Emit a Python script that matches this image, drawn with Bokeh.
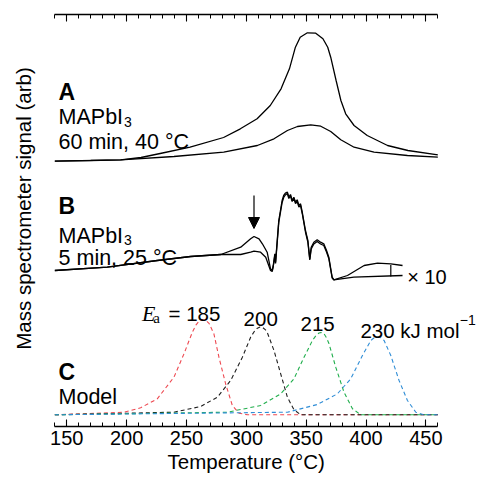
from bokeh.plotting import figure
from bokeh.models import (Label, LinearAxis, SingleIntervalTicker, Arrow, NormalHead, Title)
from bokeh.embed import file_html
from bokeh.resources import INLINE
import math

# ---------------- data ----------------
# Panel A: MAPbI3, 60 min, 40 C  (temperature in C, signal in arb)
a_hi_T = [140, 170, 195, 212, 228, 253, 281, 295, 309, 320, 329, 336, 341, 345, 351,
          358, 364, 368, 370.5, 375, 379, 383, 390, 401, 418, 435, 460]
a_hi_s = [0, 0.7, 1.4, 3.7, 7.7, 14.0, 23.7, 32.4, 42.4, 55.7, 72.4, 92.4, 114.0, 124.0,
          128.4, 128.0, 122.4, 114.0, 104.0, 80.7, 60.7, 47.4, 35.7, 25.7, 15.7, 10.7, 6.4]
a_lo_T = [140, 195, 239.5, 281.1, 309.2, 323.1, 334.3, 342.7, 353.8, 362.2, 370.5, 378.9,
          390.0, 406.7, 434.6, 460]
a_lo_s = [0, 1.4, 4.7, 9.0, 15.7, 22.4, 30.7, 34.7, 36.4, 35.0, 29.7, 21.4, 14.0, 9.0, 5.7, 4.0]

# Panel B: MAPbI3, 5 min, 25 C (x10)
b_hi_T = [140, 183.8, 225.6, 253.5, 278.7, 295.3, 303.6, 306.4, 310.6, 313.4, 317.4, 320.2,
          321.6, 322.5, 323.8, 324.4, 325.8, 327.1, 328.5, 329.9, 331.2, 332.6, 334.3, 335.5,
          336.9, 338.3, 339.7, 341.1, 342.5, 343.9, 345.3, 346.7, 349.4, 351.4, 353.0, 354.2,
          356.4, 359.2, 362.0, 364.7, 367.0, 368.9, 371.7, 373.1, 384.5, 398.4, 409.6, 420.7,
          430.5]
b_hi_s = [0, 3.3, 10, 14, 16, 23.3, 31.7, 34, 31.7, 26.7, 18.3, 1.7,
          0, 5, 16.7, 8.3, 30, 50, 60, 70, 75, 77.3, 78.3, 73.3,
          76, 70, 73.3, 68.3, 70.7, 65, 66.7, 58.3, 40, 30, 11.7, 23.3,
          28.3, 30.7, 28.3, 26.7, 20, 13.3, -6.7, -9.3, -5, 5, 7.3, 6.7,
          5]
b_lo_T = [140, 183.8, 225.6, 253.5, 278.7, 295.3, 303.6, 306.4, 311.9, 316.2, 320.2, 321.6,
          322.5, 323.8, 324.4, 325.8, 327.1, 328.5, 329.9, 331.2, 332.6, 334.3, 335.5, 336.9,
          338.3, 339.7, 341.1, 342.5, 343.9, 345.3, 346.7, 349.4, 351.4, 353.0, 354.2, 356.4,
          359.2, 362.0, 364.7, 367.0, 368.9, 371.7, 373.1, 389.8, 430.5]
b_lo_s = [0, 3.3, 10, 14, 16, 16, 18.3, 19.3, 18.3, 13.3, 0, -1,
          4, 15, 7, 28, 48, 58, 68, 73, 75.5, 77, 72, 74.5,
          69, 72, 67, 69, 63.5, 65, 57, 38.5, 28.5, 10.5, 21.5, 26.5,
          29, 26.5, 25, 18.5, 12, -7.5, -9.3, -6.7, -5]
bracket_T = [420.7, 420.7]
bracket_s = [5.5, -6]
arrow_T = 306.4
arrow_s = [75, 42]

# Panel C: model, Ea = 185, 200, 215, 230 kJ/mol
c185_T = [140, 197.7, 211.7, 225.6, 239.5, 247.9, 254.9, 258, 260.4, 263.3, 266, 268.8,
          272.9, 277.1, 282.7, 288.3, 293.8, 300.9, 460]
c185_s = [0, 2.6, 7, 16, 37.6, 61, 82.6, 90, 93.6, 95.3, 94.5, 91.5,
          81, 57.6, 31, 9.3, 1.6, 0, 0]
c200_T = [140, 239.5, 261.8, 275.8, 286.9, 296.7, 303.6, 307, 309.2, 311.5, 313.4, 316,
          317.6, 323.1, 328.7, 334.3, 339.8, 345.4, 460]
c200_s = [0, 2.6, 8.3, 17.6, 34.3, 57.6, 77.6, 84, 86.6, 87.8, 87.6, 85,
          82, 64.3, 41, 17.6, 5, 0, 0]
c215_T = [140, 284.1, 312, 328.7, 339.8, 348.2, 355.2, 358, 360.7, 362.5, 364.9, 367,
          369.1, 374.7, 381.6, 388.7, 395.6, 460]
c215_s = [0, 2.6, 9.3, 21, 36, 57.6, 74.3, 79, 81.8, 82.3, 81, 77,
          71, 47.6, 22.6, 6, 0, 0]
c230_T = [140, 334.3, 359.4, 376.1, 387.2, 397, 404, 406.5, 409.6, 412.5, 415.1, 420.7,
          427.6, 434.6, 441.6, 448.5, 460]
c230_s = [0, 2.6, 10.3, 21, 36, 59.3, 74.3, 76.8, 77.8, 77, 74.3, 59.3,
          34.3, 14.3, 2.6, 0, 0]

ea_labels = ["200", "215", "230 kJ mol"]
t_bounds = (140, 460)

# vertical offsets of the stacked panels (arb)
OFF_A, OFF_B, OFF_C = 265.3, 156.0, 11.7

FONT = "Liberation Sans"

p = figure(width=476, height=476, x_range=(94.6, 492.3), y_range=(0, 412),
           output_backend="svg", toolbar_location=None, y_axis_location=None,
           min_border_left=0, min_border_right=0, min_border_top=14,
           min_border_bottom=50)
p.outline_line_color = None
p.xgrid.visible = False
p.ygrid.visible = False
p.background_fill_color = "white"
p.border_fill_color = "white"

xa = p.xaxis[0]
xa.ticker = SingleIntervalTicker(interval=50, num_minor_ticks=5)
xa.bounds = t_bounds
xa.major_tick_in = 7
xa.major_tick_out = 0
xa.minor_tick_in = 4
xa.minor_tick_out = 0
xa.axis_line_width = 1.3
xa.major_tick_line_width = 1.1
xa.minor_tick_line_width = 1.0
xa.major_label_text_font = FONT
xa.major_label_text_font_size = "20px"
xa.major_label_text_color = "black"
xa.major_label_standoff = 4

# horizontal axis title, placed under the tick labels
p.add_layout(Title(text="Temperature (°C)", align="left", offset=167,
                   text_font=FONT, text_font_size="20.5px", text_font_style="normal",
                   text_color="black", standoff=0), "below")

top = LinearAxis(ticker=SingleIntervalTicker(interval=50, num_minor_ticks=5),
                 bounds=t_bounds,
                 major_tick_in=7, major_tick_out=0, minor_tick_in=4, minor_tick_out=0,
                 axis_line_width=1.3, major_tick_line_width=1.1,
                 major_label_text_font_size="8px", major_label_text_color=None,
                 major_label_standoff=0)
p.add_layout(top, "above")

# Panel A
p.line(a_hi_T, [s + OFF_A for s in a_hi_s], line_color="black", line_width=1.3)
p.line(a_lo_T, [s + OFF_A for s in a_lo_s], line_color="black", line_width=1.3)

# Panel B
p.line(b_hi_T, [s + OFF_B for s in b_hi_s], line_color="black", line_width=1.3)
p.line(b_lo_T, [s + OFF_B for s in b_lo_s], line_color="black", line_width=1.3)
p.line(bracket_T, [s + OFF_B for s in bracket_s], line_color="black", line_width=1.2)
p.add_layout(Arrow(end=NormalHead(size=11, fill_color="black", line_color="black"),
                   x_start=arrow_T, y_start=arrow_s[0] + OFF_B,
                   x_end=arrow_T, y_end=arrow_s[1] + OFF_B,
                   line_color="black", line_width=1.2))

# Panel C
dash = "4 3"
for T, s, c in [(c185_T, c185_s, "#ee4a52"), (c200_T, c200_s, "#1e1e1e"),
                (c215_T, c215_s, "#20ae4c"), (c230_T, c230_s, "#2f8dd6")]:
    p.line(T, [v + OFF_C for v in s], line_color=c, line_width=1.1, line_dash=dash)


def lab(x, y, text, size="21.5px", font=FONT, style="normal", align="left",
        baseline="alphabetic", angle=0.0):
    p.add_layout(Label(x=x, y=y, text=text, text_font=font, text_font_size=size,
                       text_font_style=style, text_align=align,
                       text_baseline=baseline, angle=angle, text_color="black"))

# panel annotations
lab(143.1, 334.3, "A", size="23px", style="bold")
lab(143.1, 309.3, "MAPbI")
lab(197.8, 304.5, "3", size="14px")
lab(143.1, 284.3, "60 min, 40 °C")

lab(143.1, 221.0, "B", size="23px", style="bold")
lab(143.1, 191.0, "MAPbI")
lab(197.8, 186.2, "3", size="14px")
lab(143.1, 168.7, "5 min, 25 °C")
lab(434.4, 150.0, "× 10", size="20px")

lab(143.1, 54.3, "C", size="23px", style="bold")
lab(143.1, 29.3, "Model")

lab(212.8, 113.0, "E", size="22px", font="Liberation Serif", style="italic")
lab(222.3, 109.0, "a", size="15px", font="Liberation Serif")
lab(235.0, 113.0, "= 185", size="20.5px")
lab(297.7, 108.0, ea_labels[0], size="20.5px")
lab(345.3, 103.0, ea_labels[1], size="20.5px")
lab(395.3, 96.5, ea_labels[2], size="20.5px")
lab(478.3, 107.0, "\u22121", size="14px")

# vertical axis title
lab(113.4, 218.0, "Mass spectrometer signal (arb)", size="20.5px", align="center",
    baseline="middle", angle=math.pi / 2)

open("out.html", "w").write(file_html(p, INLINE))
